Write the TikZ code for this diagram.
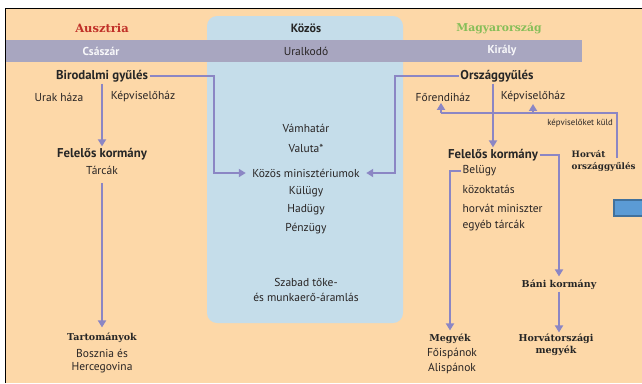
\documentclass[tikz,border=0pt]{standalone}
\usepackage{fontspec}
\setmainfont{PT Sans}
\newfontfamily\slab{DejaVu Serif}
\usetikzlibrary{arrows.meta}

\definecolor{bgorange}{RGB}{253,216,168}
\definecolor{kozosblue}{RGB}{197,221,234}
\definecolor{bandgray}{RGB}{168,166,192}
\definecolor{arrowcol}{RGB}{139,134,196}
\definecolor{ausred}{RGB}{192,48,40}
\definecolor{hungreen}{RGB}{134,190,88}
\definecolor{txtgray}{RGB}{40,36,36}
\definecolor{boxblue}{RGB}{91,155,213}
\definecolor{boxedge}{RGB}{65,113,156}

\tikzset{
  txt/.style={inner sep=1.5pt, text=txtgray, font=\fontsize{11.5}{13}\selectfont},
  small/.style={inner sep=1pt, text=txtgray, font=\fontsize{8.8}{10}\selectfont},
  hd/.style={inner sep=1.5pt, text=black!85, font=\fontsize{12.8}{14}\selectfont\bfseries},
  slabhd/.style={inner sep=1.5pt, text=black!85, font=\slab\fontsize{9.5}{12}\selectfont\bfseries},
  bandtxt/.style={inner sep=1pt, font=\fontsize{11.5}{13}\selectfont\bfseries, text=white!92!bandgray},
  conn/.style={draw=arrowcol, line width=2pt, -{Triangle[length=7pt,width=8pt]}},
  plain/.style={draw=arrowcol, line width=2pt},
}

\begin{document}
\begin{tikzpicture}[x=1pt,y=-1pt]
        \useasboundingbox (0,0) rectangle (642,383);
        \clip (0,0) rectangle (642,383);
        % frame and panels
        \fill[white] (0,0) rectangle (642,383);
        \fill[bgorange] (6,9) rectangle (642,383);
        \draw[line width=1.2pt] (5.5,383) -- (5.5,8.5) -- (642,8.5);
        \fill[kozosblue, rounded corners=10pt] (207,16) rectangle (403,323);
        \fill[bandgray] (6,40) rectangle (582,62);
        \draw[boxedge, line width=1.5pt, fill=boxblue] (614,200) rectangle (648,216);

        % column heads
        \node[slabhd, text=ausred, font=\slab\fontsize{11.5}{13}\selectfont\bfseries] (aus) at (102,28) {Ausztria};
        \node[hd, font=\fontsize{12}{13}\selectfont\bfseries] (koz) at (306,28) {Közös};
        \node[slabhd, text=hungreen, font=\slab\fontsize{10.8}{12}\selectfont\bfseries] (mag) at (499,28) {Magyarország};
        \node[bandtxt] (csaszar) at (101,51) {Császár};
        \node[txt] (uralk) at (306,51) {Uralkodó};
        \node[bandtxt] (kiraly) at (502,51) {Király};

        % Ausztria
        \node[hd] (birod) at (102,76) {Birodalmi gyűlés};
        \node[txt] (urak) at (59,97) {Urak háza};
        \node[txt] (kepvA) at (143,97) {Képviselőház};
        \node[hd] (felkA) at (102,154) {Felelős kormány};
        \node[txt] (tarcak) at (102,170) {Tárcák};
        \node[slabhd] (tart) at (102,338) {Tartományok};
        \node[txt] (bosz) at (102,353) {Bosznia és};
        \node[txt] (herc) at (102,368) {Hercegovina};

        % Közös
        \node[txt] (vam) at (306,128) {Vámhatár};
        \node[txt] (valuta) at (306,148) {Valuta*};
        \node[txt] (kozmin) at (306,173) {Közös minisztériumok};
        \node[txt] (kulugy) at (306,192) {Külügy};
        \node[txt] (hadugy) at (306,210) {Hadügy};
        \node[txt] (penzugy) at (306,229) {Pénzügy};
        \node[txt] (szabad) at (306,282) {Szabad tőke-};
        \node[txt] (munka) at (306,297) {és munkaerő-áramlás};

        % Magyarország
        \node[hd] (orszgy) at (497,76) {Országgyűlés};
        \node[txt] (foreh) at (443,97) {Főrendiház};
        \node[txt] (kepvM) at (533,97) {Képviselőház};
        \node[small, anchor=east] (kuld) at (614,123) {képviselőket küld};
        \node[slabhd, align=left, anchor=west, font=\slab\fontsize{8.8}{11.5}\selectfont\bfseries] (horvat) at (570,161) {Horvát\\országgyűlés};
        \node[hd] (felkM) at (493,155) {Felelős kormány};
        \node[txt, anchor=west] (belugy) at (461,171) {Belügy};
        \node[txt, anchor=west] (kozokt) at (461,189) {közoktatás};
        \node[txt, anchor=west] (horvmin) at (461,208) {horvát miniszter};
        \node[txt, anchor=west] (egyeb) at (461,226) {egyéb tárcák};
        \node[slabhd] (bani) at (559,285) {Báni kormány};
        \node[slabhd, align=center] (horvmegy) at (556,345) {Horvátországi\\megyék};
        \node[slabhd] (megyek) at (450,339) {Megyék};
        \node[txt] (foisp) at (452,354) {Főispánok};
        \node[txt] (alisp) at (452,369) {Alispánok};

        % connectors
        \coordinate (lbend) at (214,76);
        \coordinate (rbend) at (395,76);
        \coordinate (hfoot) at (617,158);
        \coordinate (hcorner) at (617,113);
        \coordinate (fcorner) at (441,113);

        \draw[conn] (birod.south) -- (felkA.north);
        \draw[conn, shorten <=7pt, shorten >=4pt] (tarcak.south) -- (tart.north);
        \draw[conn, shorten >=5pt] (birod.east) -- (lbend) |- (kozmin.west);
        \draw[conn, shorten >=5pt] (orszgy.west) -- (rbend) |- (kozmin.east);
        \draw[conn] (orszgy.south -| felkM.north) -- (felkM.north);
        \draw[plain] (hfoot) -- (hcorner) -- (fcorner);
        \draw[conn] (fcorner) -- (fcorner |- foreh.south);
        \draw[conn] (kepvM.south |- hcorner) -- (kepvM.south);
        \draw[conn, shorten >=2pt] (felkM.east) -| (bani.north);
        \draw[conn] (bani.south) -- (bani.south |- horvmegy.north);
        \draw[conn, shorten >=2pt] (belugy.west) -| (megyek.north);
\end{tikzpicture}
\end{document}
